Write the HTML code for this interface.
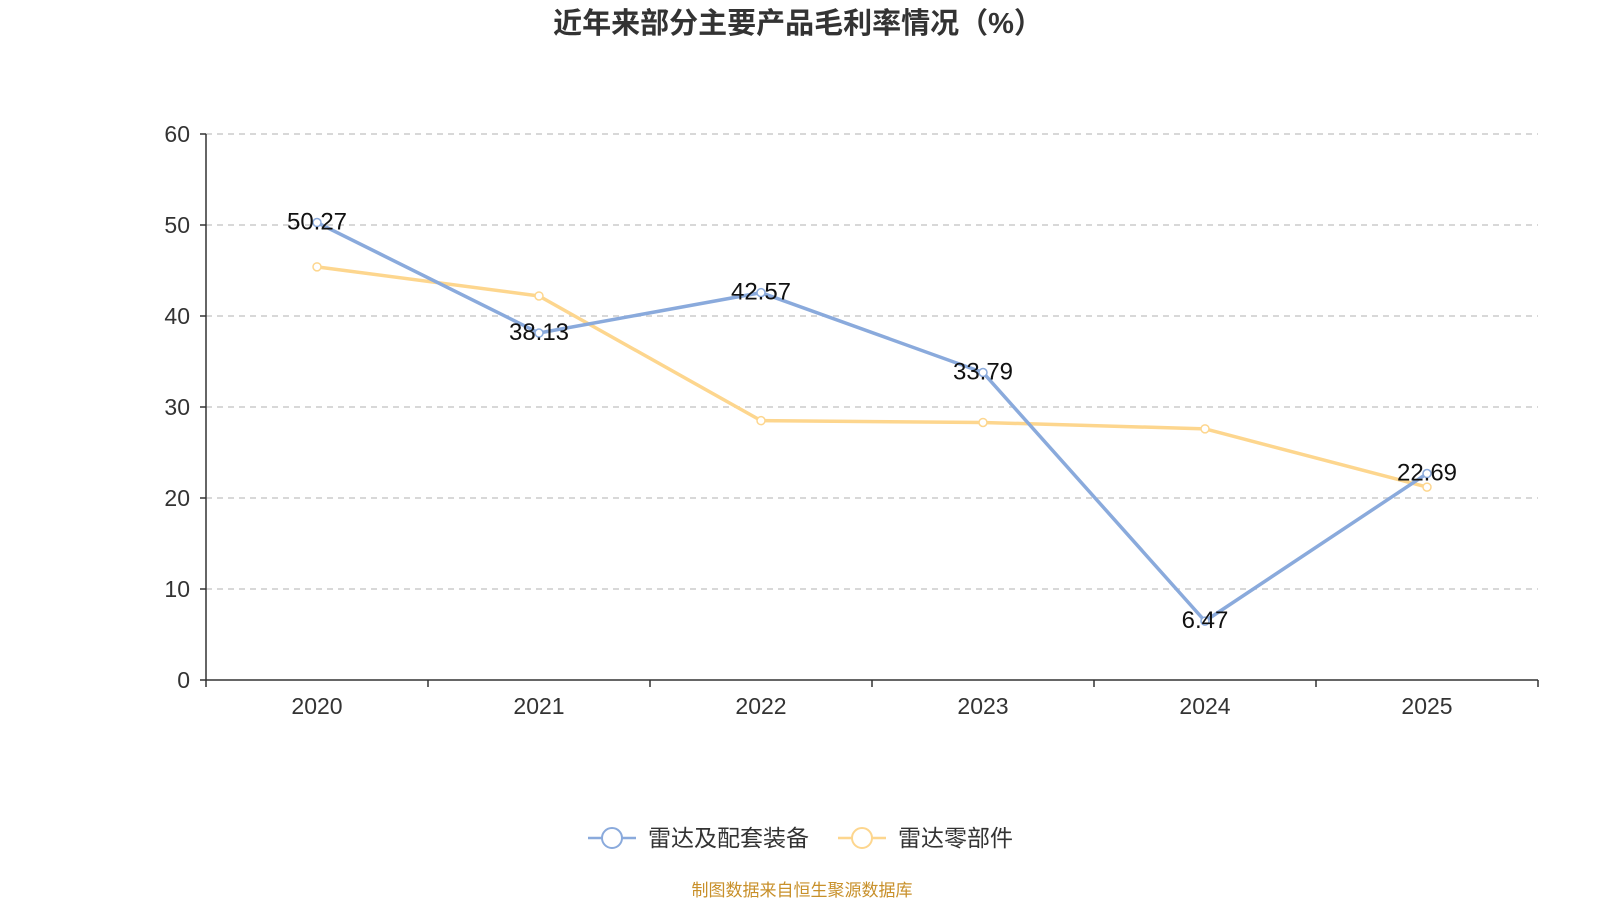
<!DOCTYPE html>
<html><head><meta charset="utf-8"><style>
body{margin:0;background:#fff;width:1600px;height:900px;overflow:hidden;font-family:"Liberation Sans","Noto Sans CJK SC",sans-serif;}
</style></head><body>
<svg id="c" width="1600" height="900" xmlns="http://www.w3.org/2000/svg">
<text x="798" y="33" text-anchor="middle" font-size="29" font-weight="bold" fill="#333" font-family="'Liberation Sans','Noto Sans CJK SC',sans-serif">近年来部分主要产品毛利率情况（%）</text>
<g id="grid"></g><g id="axes"></g><g id="series"></g>
<g>
<g>
<line x1="588" y1="838" x2="636" y2="838" stroke="#8aaadc" stroke-width="2.5"/><circle cx="612" cy="838" r="10" fill="#fff" stroke="#8aaadc" stroke-width="2"/>
<text x="648" y="846" font-size="23" fill="#333" font-family="'Liberation Sans','Noto Sans CJK SC',sans-serif">雷达及配套装备</text></g>
<g>
<line x1="838" y1="838" x2="886" y2="838" stroke="#fdd68e" stroke-width="2.5"/><circle cx="862" cy="838" r="10" fill="#fff" stroke="#fdd68e" stroke-width="2"/>
<text x="898" y="846" font-size="23" fill="#333" font-family="'Liberation Sans','Noto Sans CJK SC',sans-serif">雷达零部件</text></g>
</g>
<text x="802" y="896" text-anchor="middle" font-size="17" fill="#c8902a" font-family="'Liberation Sans','Noto Sans CJK SC',sans-serif">制图数据来自恒生聚源数据库</text>
</svg>
<script>
const categories=["2020","2021","2022","2023","2024","2025"];
const equipValues=[50.27,38.13,42.57,33.79,6.47,22.69];
const partsValues=[45.4,42.2,28.5,28.3,27.6,21.2];
const yTicks=[0,10,20,30,40,50,60];
const NS="http://www.w3.org/2000/svg";
const x0=206,x1=1538,yBase=680,yTop=134,yMax=60;
const step=(x1-x0)/categories.length;
const xs=i=>x0+step*(i+0.5);
const ys=v=>yBase-(v/yMax)*(yBase-yTop);
function mk(tag,attrs,parent,text){const e=document.createElementNS(NS,tag);for(const k in attrs)e.setAttribute(k,attrs[k]);if(text!==undefined)e.textContent=text;parent.appendChild(e);return e;}
const grid=document.getElementById('grid'),axes=document.getElementById('axes'),ser=document.getElementById('series');
const F="'Liberation Sans','Noto Sans CJK SC',sans-serif";
yTicks.forEach(t=>{
 if(t>0){const g=mk('line',{x1:x0,x2:x1,y1:ys(t),y2:ys(t),stroke:'#ccc','stroke-width':1.5,'stroke-dasharray':'6,5'},grid);
 
 }
 mk('line',{x1:x0-6,x2:x0,y1:ys(t),y2:ys(t),stroke:'#333','stroke-width':1.5},axes);
 const l=mk('text',{x:x0-16,y:ys(t)+8,'text-anchor':'end','font-size':23,fill:'#333','font-family':F},axes,String(t));
 
 
});
const ya=mk('line',{x1:x0,x2:x0,y1:yTop,y2:yBase,stroke:'#333','stroke-width':1.5},axes);


const xa=mk('line',{x1:x0,x2:x1,y1:yBase,y2:yBase,stroke:'#333','stroke-width':1.5},axes);


for(let i=0;i<=categories.length;i++)mk('line',{x1:x0+step*i,x2:x0+step*i,y1:yBase,y2:yBase+7,stroke:'#333','stroke-width':1.5},axes);
categories.forEach((c,i)=>{const t=mk('text',{x:xs(i),y:yBase+34,'text-anchor':'middle','font-size':23,fill:'#333','font-family':F},axes,c);
 
 });
function series(vals,color,name,labels){
 const p=mk('polyline',{points:vals.map((v,i)=>xs(i)+','+ys(v)).join(' '),fill:'none',stroke:color,'stroke-width':3.5,'stroke-linejoin':'round'},ser);
 
 
 vals.forEach((v,i)=>{const c=mk('circle',{cx:xs(i),cy:ys(v),r:4,fill:'#fff',stroke:color,'stroke-width':1.5},ser);
  
  
  if(labels){const t=mk('text',{x:xs(i),y:ys(v)+7,'text-anchor':'middle','font-size':24,fill:'#111','font-family':F},ser,v.toFixed(2));
   
   }});
}
series(partsValues,'#fdd68e','radar-parts',false);
series(equipValues,'#8aaadc','radar-equipment',true);
</script>
</body></html>
